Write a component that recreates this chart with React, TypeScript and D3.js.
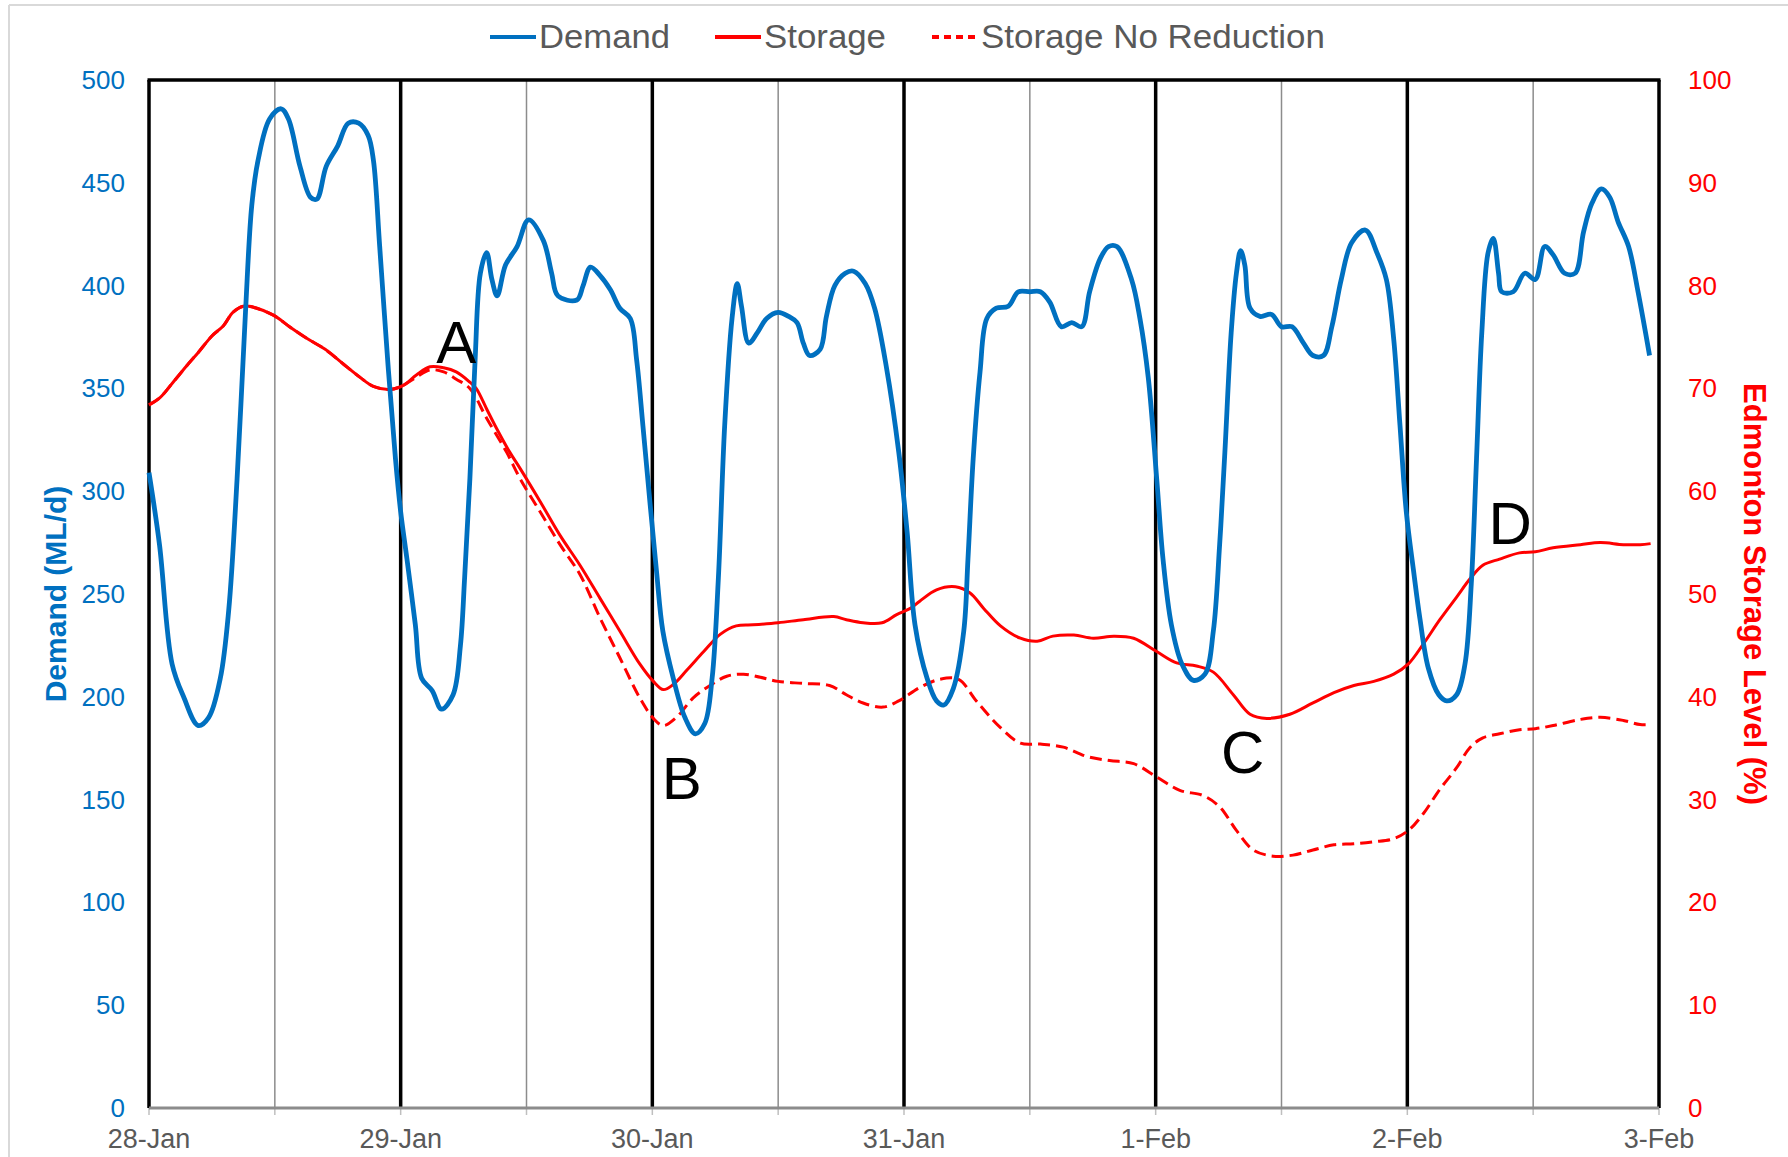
import * as d3 from 'd3'

// hours since 28-Jan 00:00, value
const DEMAND: [number, number][] = [
  [0, 309], [1, 274], [2.2, 216], [3.3, 200], [4.7, 186], [5.7, 190], [6.8, 209], [7.6, 242],
  [8.4, 306], [9.2, 387], [9.8, 439], [10.4, 461], [11.5, 481], [12.6, 486], [13.3, 481],
  [14.4, 458], [15.4, 443], [16.0, 442], [16.9, 458], [18.0, 468], [19.0, 479], [20.0, 479],
  [20.9, 473], [21.4, 461], [22.0, 419], [22.8, 361], [23.5, 316], [24.0, 290], [24.6, 267],
  [25.4, 235], [26.0, 209], [27.0, 203], [27.9, 194], [29.0, 201], [29.7, 225], [30.1, 258],
  [30.6, 306], [31.1, 364], [31.6, 406], [32.2, 416], [32.7, 403], [33.2, 395], [34.0, 410],
  [35.1, 419], [36.2, 432], [37.6, 422], [38.4, 406], [39.0, 395], [40.8, 393], [41.4, 400],
  [42.1, 409], [43.0, 405], [44.0, 398], [44.9, 389], [45.9, 384], [46.5, 364], [47.1, 332],
  [47.8, 293], [48.4, 261], [49.0, 232], [50.0, 209], [51.1, 190], [52.1, 182], [53.0, 187],
  [53.7, 209], [54.3, 258], [54.9, 332], [55.6, 384], [56.1, 401], [56.5, 390], [57.2, 372],
  [58.0, 377], [58.9, 384], [60.0, 387], [61.0, 385], [61.8, 382], [62.4, 372], [63.0, 366],
  [64.0, 369], [64.6, 385], [65.4, 400], [66.4, 406], [67.2, 407], [68.3, 401], [69.2, 389],
  [70.3, 361], [71.5, 319], [72.3, 280], [73.05, 235], [74.2, 209], [75.1, 198], [75.8, 196],
  [76.7, 204], [77.7, 232], [78.1, 267], [78.6, 316], [79.25, 358], [79.9, 384], [80.8, 389],
  [81.95, 390], [82.9, 397], [84.0, 397], [85.0, 397], [85.9, 392], [87.0, 380], [88.0, 382],
  [88.95, 380], [89.7, 397], [90.7, 413], [91.5, 419], [92.3, 419], [93.7, 403], [94.5, 384],
  [95.3, 355], [96.1, 306], [96.7, 267], [97.5, 235], [98.5, 216], [99.6, 208], [100.7, 211],
  [101.5, 232], [102.1, 274], [102.6, 319], [103.2, 377], [103.7, 406], [104.1, 417],
  [104.5, 410], [105.0, 389], [105.95, 385], [107.05, 386], [108.0, 380], [109.0, 380],
  [110.1, 372], [111.0, 366], [112.0, 366], [112.8, 380], [113.7, 403], [114.7, 421],
  [116.0, 427], [117.1, 416], [118.0, 403], [118.7, 374], [119.3, 332], [119.9, 290],
  [120.6, 261], [121.2, 238], [122.0, 214], [123.0, 201], [123.75, 198], [124.7, 201],
  [125.5, 216], [126.1, 255], [126.6, 316], [127.1, 377], [127.7, 416], [128.2, 423],
  [128.7, 406], [129.0, 397], [130.1, 397], [131.2, 406], [132.2, 403], [133.1, 419],
  [133.9, 415], [135.0, 406], [136.0, 406], [136.8, 426], [137.6, 440], [138.5, 447],
  [139.3, 443], [140.1, 431], [141.1, 419], [142.0, 397], [143.1, 366],
]

const STORAGE: [number, number][] = [
  [0, 68.4], [1.05, 69.1], [2.3, 70.6], [3.6, 72.2], [4.7, 73.5], [6.0, 75.1], [7.1, 76.1],
  [8.0, 77.4], [9.0, 78.0], [9.95, 77.9], [11.9, 77.1], [13.4, 76.0], [15.0, 74.9],
  [16.8, 73.8], [18.5, 72.4], [20.1, 71.1], [21.4, 70.2], [23.0, 69.9], [24.25, 70.3],
  [25.5, 71.3], [26.8, 72.1], [28.1, 72.0], [29.3, 71.6], [30.6, 70.6], [31.2, 70.0],
  [32.2, 68.0], [33.15, 66.1], [34.4, 63.8], [35.4, 62.2], [37.3, 59.0], [39.2, 55.7],
  [41.1, 52.8], [43.0, 49.6], [44.9, 46.4], [46.8, 43.2], [48.1, 41.5], [49.05, 40.7],
  [50.0, 41.2], [51.3, 42.6], [52.9, 44.4], [54.5, 46.1], [56.0, 46.9], [57.6, 47.0],
  [60.0, 47.2], [62.4, 47.5], [65.3, 47.8], [66.5, 47.5], [68.1, 47.2], [69.9, 47.2],
  [71.3, 48.0], [72.6, 48.6], [73.5, 49.3], [75.1, 50.4], [76.9, 50.7], [78.3, 50.1],
  [79.6, 48.6], [81.2, 46.9], [83.1, 45.7], [84.7, 45.4], [86.2, 45.9], [88.2, 46.0],
  [90.05, 45.7], [92.0, 45.9], [93.9, 45.7], [96.1, 44.4], [98.0, 43.3], [99.9, 43.0],
  [101.5, 42.4], [103.4, 40.2], [105.0, 38.3], [106.6, 37.9], [108.8, 38.3], [111.0, 39.4],
  [113.0, 40.4], [114.9, 41.1], [116.8, 41.5], [118.7, 42.2], [120.1, 43.2], [121.5, 45.1],
  [123.1, 47.5], [124.7, 49.7], [126.0, 51.5], [127.2, 52.8], [128.8, 53.4], [130.7, 54.0],
  [132.2, 54.1], [133.9, 54.5], [136.5, 54.8], [138.4, 55.0], [140.6, 54.8], [142.2, 54.8],
  [143.2, 54.9],
]

const STORAGE_NO_REDUCTION: [number, number][] = [
  [0, 68.4], [1.05, 69.1], [2.3, 70.6], [3.6, 72.2], [4.7, 73.5], [6.0, 75.1], [7.1, 76.1],
  [8.0, 77.4], [9.0, 78.0], [9.95, 77.9], [11.9, 77.1], [13.4, 76.0], [15.0, 74.9],
  [16.8, 73.8], [18.5, 72.4], [20.1, 71.1], [21.4, 70.2], [23.0, 69.9], [24.25, 70.3],
  [25.5, 71.1], [26.8, 71.8], [28.1, 71.6], [29.3, 70.9], [30.6, 70.0], [32.2, 67.1],
  [34.1, 63.8], [35.4, 61.2], [37.3, 58.0], [39.2, 54.8], [41.1, 51.9], [43.0, 47.7],
  [44.9, 43.8], [46.8, 39.9], [48.1, 37.9], [49.05, 37.2], [50.3, 38.0], [51.9, 39.9],
  [53.5, 41.1], [55.1, 42.0], [56.7, 42.2], [58.3, 41.9], [60.0, 41.5], [62.4, 41.3],
  [64.9, 41.1], [66.5, 40.2], [68.1, 39.4], [70.0, 39.0], [71.5, 39.6], [73.5, 40.9],
  [75.4, 41.7], [77.2, 41.7], [78.9, 39.6], [81.2, 37.0], [83.1, 35.5], [85.0, 35.4],
  [87.2, 35.1], [89.4, 34.2], [91.6, 33.8], [93.9, 33.5], [96.1, 32.2], [98.3, 30.9],
  [100.5, 30.4], [102.1, 29.3], [103.7, 27.0], [105.3, 25.1], [107.2, 24.5], [109.1, 24.6],
  [111.0, 25.1], [113.0, 25.6], [114.9, 25.7], [116.8, 25.9], [118.7, 26.2], [120.1, 27.0],
  [121.5, 28.6], [123.1, 31.0], [124.7, 33.1], [126.0, 35.1], [127.2, 36.0], [128.8, 36.4],
  [130.7, 36.8], [132.2, 36.9], [133.9, 37.2], [136.5, 37.8], [138.4, 38.0], [140.6, 37.7],
  [142.2, 37.3], [143.2, 37.3],
]

// hour position + label letter
const ANNOTATIONS: { hour: number; storage: number; label: string }[] = [
  { hour: 29.3, storage: 72.5, label: 'A' },
  { hour: 50.8, storage: 30.1, label: 'B' },
  { hour: 104.3, storage: 32.6, label: 'C' },
  { hour: 129.8, storage: 54.9, label: 'D' },
]

const LEGEND = [
  { label: 'Demand', color: '#0070C0', dash: null, x: 490, textWidth: 131 },
  { label: 'Storage', color: '#FF0000', dash: null, x: 715, textWidth: 122 },
  { label: 'Storage No Reduction', color: '#FF0000', dash: '7,5', x: 932, textWidth: 344 },
]

const DEMAND_TICKS = [0, 50, 100, 150, 200, 250, 300, 350, 400, 450, 500]
const STORAGE_TICKS = [0, 10, 20, 30, 40, 50, 60, 70, 80, 90, 100]

const W = 1788
const H = 1157
const PLOT = { left: 149, right: 1659, top: 80, bottom: 1108 }
const FONT = '"Liberation Sans", Arial, sans-serif'
const BLUE = '#0070C0'
const RED = '#FF0000'
const GREY_TEXT = '#595959'

const START = new Date(2019, 0, 28)
const at = (h: number) => new Date(START.getTime() + h * 3600 * 1000)

export default function App() {
  const x = d3
    .scaleTime()
    .domain([START, at(144)])
    .range([PLOT.left, PLOT.right])
  const yDemand = d3.scaleLinear().domain([0, 500]).range([PLOT.bottom, PLOT.top])
  const yStorage = d3.scaleLinear().domain([0, 100]).range([PLOT.bottom, PLOT.top])

  const demandLine = d3
    .line<[number, number]>()
    .x((d) => x(at(d[0])))
    .y((d) => yDemand(d[1]))
    .curve(d3.curveCatmullRom.alpha(0.5))
  const storageLine = d3
    .line<[number, number]>()
    .x((d) => x(at(d[0])))
    .y((d) => yStorage(d[1]))
    .curve(d3.curveCatmullRom.alpha(0.5))

  const days = d3.timeDay.range(START, at(144.1))
  const halfDays = d3.timeHour.every(12)!.range(START, at(144.1))
  const fmt = d3.timeFormat('%-d-%b')

  return (
    <div style={{ position: 'absolute', left: 0, top: 0 }}>
      <svg width={W} height={H} style={{ display: 'block', background: '#fff' }}>
        {/* chart area frame */}
        <line x1={9} x2={W} y1={5} y2={5} stroke="#d9d9d9" strokeWidth={2} />
        <line x1={9} x2={9} y1={5} y2={H} stroke="#d9d9d9" strokeWidth={2} />

        {/* legend */}
        {LEGEND.map((l) => (
          <g key={l.label}>
            <line
              x1={l.x}
              x2={l.x + 46}
              y1={37}
              y2={37}
              stroke={l.color}
              strokeWidth={4}
              strokeDasharray={l.dash ?? undefined}
            />
            <text
              x={l.x + 49}
              y={48}
              fontFamily={FONT}
              fontSize={33}
              fill={GREY_TEXT}
              textLength={l.textWidth}
              lengthAdjust="spacingAndGlyphs"
            >
              {l.label}
            </text>
          </g>
        ))}

        {/* half-day gridlines */}
        {halfDays
          .filter((d) => d.getHours() === 12)
          .map((d) => (
            <line
              key={'h' + d.getTime()}
              x1={x(d)}
              x2={x(d)}
              y1={PLOT.top}
              y2={PLOT.bottom}
              stroke="#8c8c8c"
              strokeWidth={1.5}
            />
          ))}
        {/* ticks under axis */}
        {halfDays.map((d) => (
          <line
            key={'t' + d.getTime()}
            x1={x(d)}
            x2={x(d)}
            y1={PLOT.bottom}
            y2={PLOT.bottom + 7}
            stroke="#bfbfbf"
            strokeWidth={1.5}
          />
        ))}
        {/* day gridlines */}
        {days.map((d) => (
          <line
            key={'d' + d.getTime()}
            x1={x(d)}
            x2={x(d)}
            y1={PLOT.top}
            y2={PLOT.bottom}
            stroke="#000"
            strokeWidth={3.5}
          />
        ))}
        <line x1={PLOT.left - 1.5} x2={PLOT.right + 1.5} y1={PLOT.top} y2={PLOT.top} stroke="#000" strokeWidth={3.5} />
        <line x1={PLOT.left} x2={PLOT.right} y1={PLOT.bottom} y2={PLOT.bottom} stroke="#8c8c8c" strokeWidth={3} />

        {/* x labels */}
        {days.map((d) => (
          <text
            key={'l' + d.getTime()}
            x={x(d)}
            y={1148}
            textAnchor="middle"
            fontFamily={FONT}
            fontSize={27}
            fill={GREY_TEXT}
          >
            {fmt(d)}
          </text>
        ))}

        {/* left axis */}
        {DEMAND_TICKS.map((t) => (
          <text
            key={'yl' + t}
            x={125}
            y={yDemand(t) + 9}
            textAnchor="end"
            fontFamily={FONT}
            fontSize={26}
            fill={BLUE}
          >
            {t}
          </text>
        ))}
        <text
          transform={`translate(55,${(PLOT.top + PLOT.bottom) / 2}) rotate(-90)`}
          textAnchor="middle"
          dominantBaseline="central"
          fontFamily={FONT}
          fontWeight="bold"
          fontSize={30}
          fill={BLUE}
        >
          Demand (ML/d)
        </text>

        {/* right axis */}
        {STORAGE_TICKS.map((t) => (
          <text
            key={'yr' + t}
            x={1688}
            y={yStorage(t) + 9}
            textAnchor="start"
            fontFamily={FONT}
            fontSize={26}
            fill={RED}
          >
            {t}
          </text>
        ))}
        <text
          transform={`translate(1754,${(PLOT.top + PLOT.bottom) / 2}) rotate(90)`}
          textAnchor="middle"
          dominantBaseline="central"
          fontFamily={FONT}
          fontWeight="bold"
          fontSize={31}
          fill={RED}
        >
          Edmonton Storage Level (%)
        </text>

        {/* series */}
        <path
          d={storageLine(STORAGE_NO_REDUCTION) ?? ''}
          fill="none"
          stroke={RED}
          strokeWidth={3}
          strokeDasharray="12,6"
        />
        <path d={storageLine(STORAGE) ?? ''} fill="none" stroke={RED} strokeWidth={3} />
        <path
          d={demandLine(DEMAND) ?? ''}
          fill="none"
          stroke={BLUE}
          strokeWidth={4.8}
          strokeLinejoin="round"
        />

        {/* annotations */}
        {ANNOTATIONS.map((a) => (
          <text
            key={a.label}
            x={x(at(a.hour))}
            y={yStorage(a.storage)}
            textAnchor="middle"
            fontFamily={FONT}
            fontSize={60}
            fill="#000"
          >
            {a.label}
          </text>
        ))}
      </svg>
    </div>
  )
}
